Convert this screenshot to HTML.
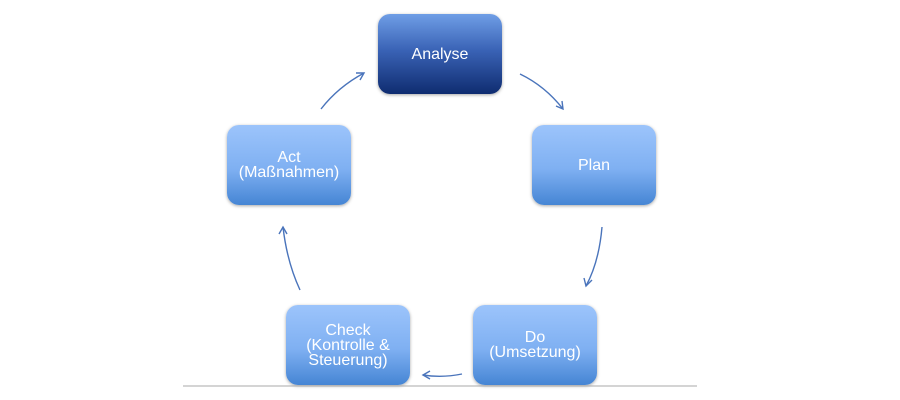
<!DOCTYPE html>
<html><head><meta charset="utf-8"><style>
html,body{margin:0;padding:0;background:#fff;}
body{width:900px;height:400px;position:relative;overflow:hidden;font-family:"Liberation Sans",sans-serif;}
.b{position:absolute;width:124px;height:80px;border-radius:12px;color:#fff;font-size:16px;line-height:15px;display:flex;align-items:center;justify-content:center;text-align:center;box-shadow:0 1px 3px rgba(0,0,0,0.35);background:linear-gradient(#9cc4fb,#7fb0f2 55%,#4585d4);}
.dark{background:linear-gradient(#6f9ee6,#3a63b6 45%,#0f2c70);}
</style></head><body>
<div class="b dark" style="left:378px;top:14px;">Analyse</div>
<div class="b" style="left:532px;top:125px;">Plan</div>
<div class="b" style="left:473px;top:305px;">Do<br>(Umsetzung)</div>
<div class="b" style="left:286px;top:305px;">Check<br>(Kontrolle &amp;<br>Steuerung)</div>
<div class="b" style="left:227px;top:125px;">Act<br>(Maßnahmen)</div>
<svg width="900" height="400" style="position:absolute;left:0;top:0">
<line x1="183" y1="386" x2="697" y2="386" stroke="#aaa" stroke-width="1"/>
<g fill="none" stroke="#4a74bb" stroke-width="1.4">
<path d="M520 74 Q545 86 563 109"/><path d="M556 106 L563 109 L562 101"/>
<path d="M602 227 Q599 262 586 286"/><path d="M584 278 L586 286 L592 280"/>
<path d="M462 374 Q442 378 423 375"/><path d="M430 371 L423 375 L430 379"/>
<path d="M300 290 Q287 262 283 227"/><path d="M279 234 L283 227 L287 234"/>
<path d="M321 109 Q338 87 364 73"/><path d="M356 73 L364 73 L360 80"/>
</g>
</svg>
</body></html>
